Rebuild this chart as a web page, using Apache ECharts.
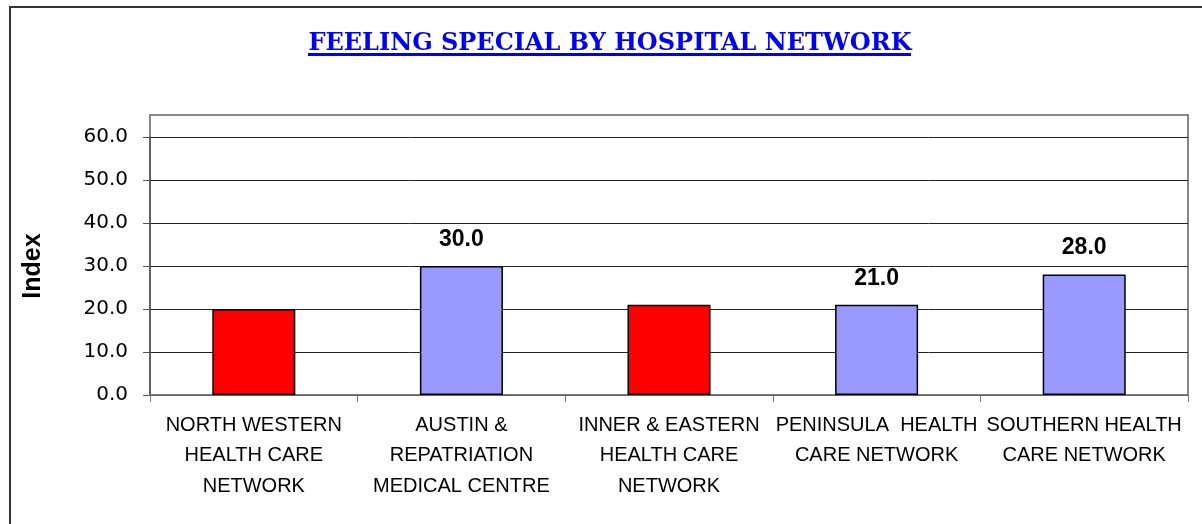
<!DOCTYPE html>
<html>
<head>
<meta charset="utf-8">
<script src="https://cdn.jsdelivr.net/npm/echarts@6/dist/echarts.min.js"></script>
<style>
  html, body { margin: 0; padding: 0; background: #fff; }
  #chart { width: 1202px; height: 524px; }
</style>
</head>
<body>
<div id="chart"></div>
<script>
// data
const categories = [
  "NORTH WESTERN\nHEALTH CARE\nNETWORK",
  "AUSTIN &\nREPATRIATION\nMEDICAL CENTRE",
  "INNER & EASTERN\nHEALTH CARE\nNETWORK",
  "PENINSULA  HEALTH\nCARE NETWORK",
  "SOUTHERN HEALTH\nCARE NETWORK",
];
// highlighted networks (red) and the rest (blue)
const highlightValues = [20, "-", 21, "-", "-"];
const otherValues = ["-", 30, "-", 21, 28];
const yTicks = { min: 0, max: 60, interval: 10 };

const option = {
  backgroundColor: "#fff",
  animation: false,
  title: {
    text: "FEELING SPECIAL BY HOSPITAL NETWORK",
    left: 605,
    top: 27,
    textAlign: "center",
    textStyle: {
      fontFamily: "DejaVu Serif",
      fontWeight: "bold",
      fontSize: 24,
      color: "#0000ff",
    },
  },
  graphic: [
    // outer frame (right/bottom run off the picture)
    {
      type: "rect",
      shape: { x: 10, y: 7, width: 1210, height: 540 },
      style: { fill: "none", stroke: "#333", lineWidth: 2 },
      silent: true,
      z: -1,
    },
    // plot area frame
    {
      type: "rect",
      shape: { x: 150, y: 115, width: 1038, height: 280 },
      style: { fill: "none", stroke: "#888", lineWidth: 2 },
      silent: true,
      z: -1,
    },
    // title underline
    {
      type: "line",
      shape: { x1: 308, y1: 54.5, x2: 911, y2: 54.5 },
      style: { stroke: "#0000ff", lineWidth: 3 },
      silent: true,
    },
  ],
  grid: {
    left: 150,
    right: 14,
    top: 137,
    bottom: 129,
  },
  xAxis: {
    type: "category",
    data: categories,
    axisLine: { lineStyle: { color: "#777", width: 1.5 } },
    axisTick: { show: true, length: 7, lineStyle: { color: "#777" } },
    axisLabel: {
      interval: 0,
      margin: 15,
      fontFamily: "Liberation Sans",
      fontSize: 20,
      lineHeight: 30.5,
      color: "#000",
    },
  },
  yAxis: {
    type: "value",
    min: yTicks.min,
    max: yTicks.max,
    interval: yTicks.interval,
    name: "Index",
    nameLocation: "middle",
    nameRotate: 90,
    nameGap: 104,
    nameTextStyle: {
      fontFamily: "Liberation Sans",
      fontWeight: "bold",
      fontSize: 25,
      color: "#000",
    },
    axisLine: { show: true, lineStyle: { color: "#555", width: 1.5 } },
    axisTick: { show: true, length: 7, lineStyle: { color: "#555" } },
    axisLabel: {
      margin: 22,
      fontFamily: "DejaVu Sans",
      fontSize: 20,
      color: "#000",
      formatter: (v) => v.toFixed(1),
    },
    splitLine: { lineStyle: { color: "#222", width: 1 } },
  },
  series: [
    {
      name: "Highlighted",
      type: "bar",
      data: highlightValues,
      barWidth: "40%",
      barGap: "-100%",
      itemStyle: { color: "#ff0000", borderColor: "#000", borderWidth: 1.5 },
    },
    {
      name: "Other",
      type: "bar",
      data: otherValues,
      barWidth: "40%",
      itemStyle: { color: "#9999ff", borderColor: "#000", borderWidth: 1.5 },
      label: {
        show: true,
        position: "top",
        distance: 15,
        fontFamily: "Liberation Sans",
        fontWeight: "bold",
        fontSize: 23,
        color: "#000",
        formatter: (p) => p.value.toFixed(1),
      },
    },
  ],
};

const chart = echarts.init(document.getElementById("chart"));
chart.setOption(option);
</script>
</body>
</html>
